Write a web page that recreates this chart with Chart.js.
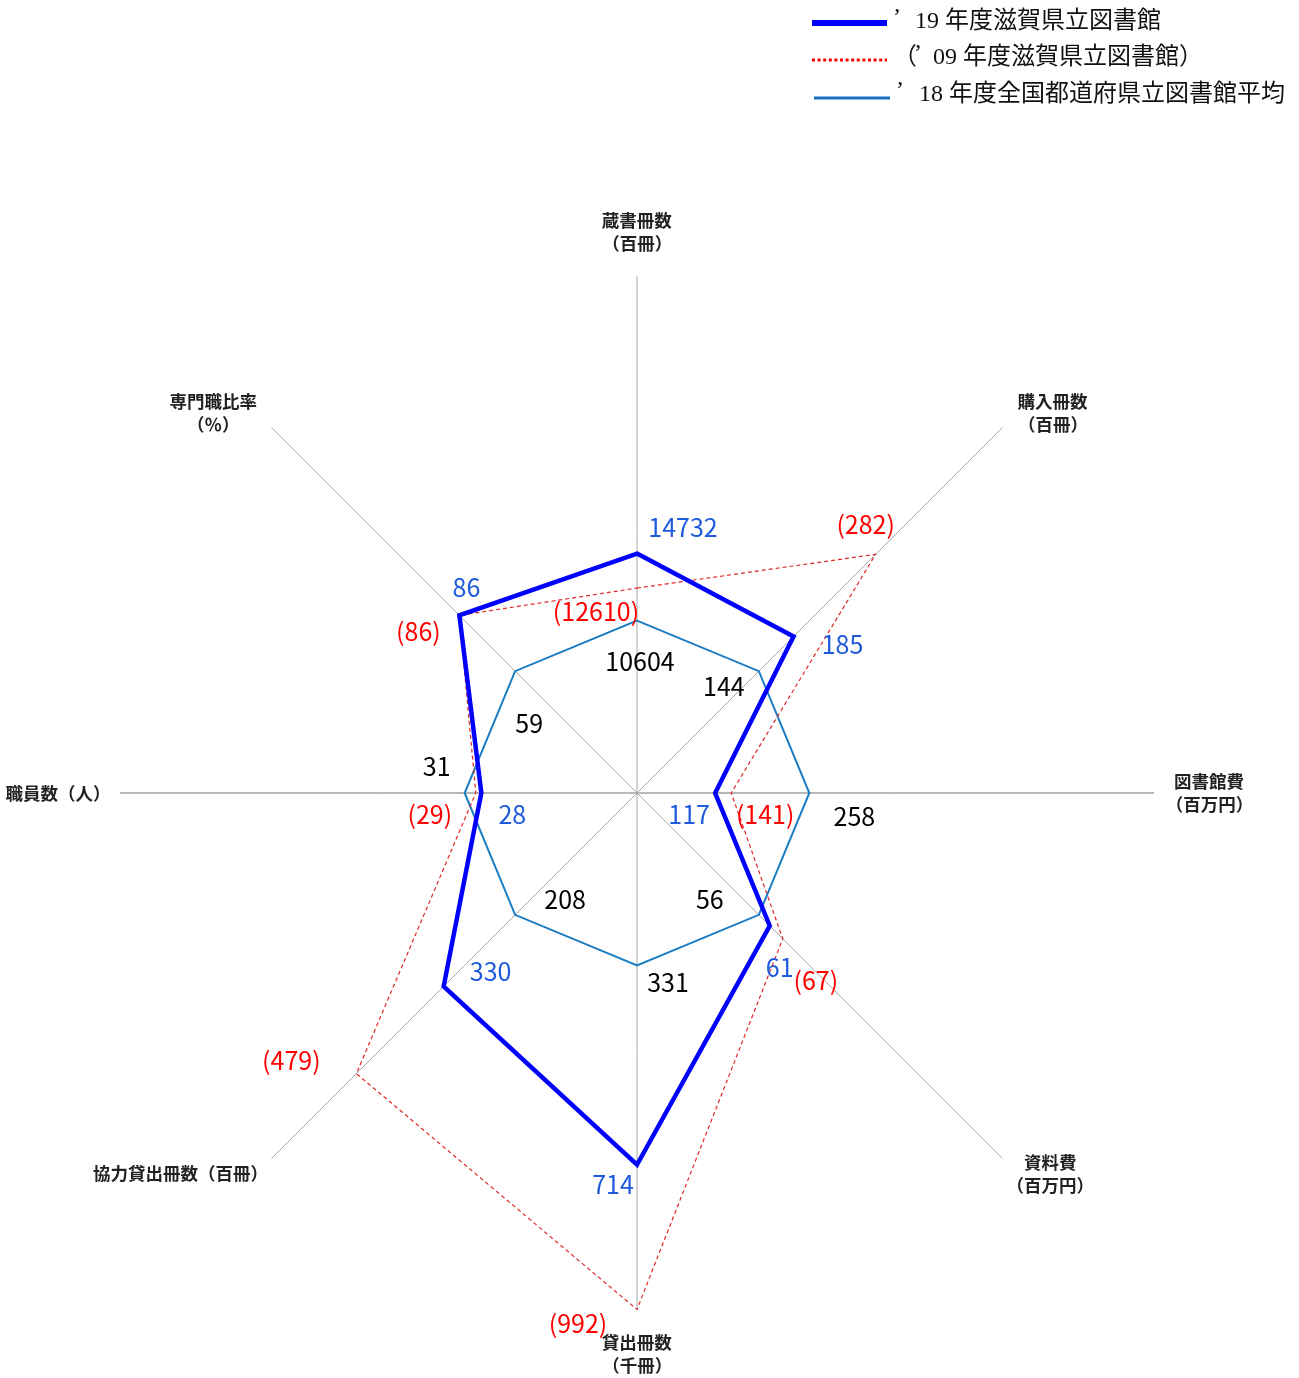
<!DOCTYPE html>
<html lang="ja">
<head>
    <meta charset="UTF-8">
    <title>滋賀県立図書館 レーダーチャート</title>
    <script src="https://cdn.jsdelivr.net/npm/chart.js"></script>
    <style>
        body { margin: 0; background: #fff; }
        canvas { display: block; }
    </style>
</head>
<body>
    <canvas id="chart" width="1299" height="1378"></canvas>

    <script>
        // 軸（上から時計回り）
        const categories = [
            ['蔵書冊数', '（百冊）'],
            ['購入冊数', '（百冊）'],
            ['図書館費', '（百万円）'],
            ['資料費', '（百万円）'],
            ['貸出冊数', '（千冊）'],
            ['協力貸出冊数（百冊）'],
            ['職員数（人）'],
            ['専門職比率', '（％）']
        ];
        const shiga2019 = [14732, 185, 117, 61, 714, 330, 28, 86];
        const shiga2009 = [12610, 282, 141, 67, 992, 479, 29, 86];
        const average2018 = [10604, 144, 258, 56, 331, 208, 31, 59];
        const seriesNames = ['19 年度滋賀県立図書館', '09 年度滋賀県立図書館', '18 年度全国都道府県立図書館平均'];
        const scaleMax = 3;  // 全国平均 = 1

        // each axis is shown relative to the national average
        const ratio = values => values.map((v, i) => v / average2018[i]);

        const BLUE = '#0000ff';
        const RED = '#e02828';
        const AVG = '#1a7cc4';
        const NUM_FONT = '25px "Noto Sans CJK JP", "Noto Sans", sans-serif';

        // label offsets from the plotted point (px)
        const blueOffsets = [[46, -26], [49, 8], [-26, 21], [10, 42], [-24, 20], [47, -15], [31, 21], [7, -28]];
        const redOffsets = [[-41, 23], [-10, -30], [34, 21], [33, 42], [-59, 14], [-65, -13], [-46, 21], [-41, 16]];
        const blackOffsets = [[3, 41], [-35, 15], [45, 23], [-49, -15], [31, 17], [50, -15], [-28, -27], [14, 52]];

        const overlay = {
            id: 'overlay',
            afterDraw(chart) {
                const ctx = chart.ctx;
                const scale = chart.scales.r;

                // axis titles, aligned on the visible ink (parens have blank sides)
                ctx.save();
                ctx.font = 'bold 17.5px "Noto Sans CJK JP", sans-serif';
                ctx.fillStyle = '#222';
                ctx.textBaseline = 'middle';
                ctx.textAlign = 'left';
                const lh = 23;
                categories.forEach((lines, i) => {
                    const p = scale.getPointPosition(i, scale.drawingArea + 21);
                    const ms = lines.map(l => ctx.measureText(l));
                    const vw = ms.map(m => m.actualBoundingBoxLeft + m.actualBoundingBoxRight);
                    const w = Math.max(...vw);
                    const h = lines.length * lh;
                    let cx = p.x, top = p.y - h / 2;
                    if (i === 0) top = p.y - h;
                    else if (i === 4) top = p.y;
                    else if (i < 4) cx = p.x + w / 2;
                    else cx = p.x - w / 2;
                    lines.forEach((l, k) => {
                        const x = cx - vw[k] / 2 + ms[k].actualBoundingBoxLeft;
                        ctx.fillText(l, x, top + lh / 2 + k * lh);
                    });
                });
                ctx.restore();

                // value labels
                ctx.save();
                ctx.font = NUM_FONT;
                ctx.textAlign = 'center';
                ctx.textBaseline = 'middle';
                const drawSet = (dsIndex, values, offsets, color, fmt) => {
                    const pts = chart.getDatasetMeta(dsIndex).data;
                    ctx.fillStyle = color;
                    values.forEach((v, i) => {
                        ctx.fillText(fmt(v), pts[i].x + offsets[i][0], pts[i].y + offsets[i][1]);
                    });
                };
                drawSet(2, average2018, blackOffsets, '#000', v => String(v));
                drawSet(1, shiga2009, redOffsets, '#ff0000', v => '(' + v + ')');
                drawSet(0, shiga2019, blueOffsets, '#1e5adc', v => String(v));
                ctx.restore();

                // legend
                ctx.save();
                ctx.lineCap = 'butt';
                ctx.strokeStyle = BLUE;
                ctx.lineWidth = 6;
                ctx.beginPath(); ctx.moveTo(812, 23); ctx.lineTo(887, 23); ctx.stroke();
                ctx.strokeStyle = '#ff0000';
                ctx.lineWidth = 3;
                ctx.setLineDash([3, 2.6]);
                ctx.beginPath(); ctx.moveTo(812, 60); ctx.lineTo(887, 60); ctx.stroke();
                ctx.setLineDash([]);
                ctx.strokeStyle = '#1770c4';
                ctx.beginPath(); ctx.moveTo(814, 98); ctx.lineTo(890, 98); ctx.stroke();

                ctx.font = '24px "Liberation Serif", "Noto Sans CJK JP", serif';
                ctx.fillStyle = '#111';
                ctx.textBaseline = 'middle';
                ctx.textAlign = 'left';
                ctx.fillText('’', 893, 18);
                ctx.fillText(seriesNames[0], 915, 22);
                ctx.fillText('（', 893, 58);
                ctx.fillText('’', 914, 54);
                ctx.fillText(seriesNames[1] + '）', 933, 58);
                ctx.fillText('’', 896, 91);
                ctx.fillText(seriesNames[2], 919, 95);
                ctx.restore();
            }
        };

        new Chart(document.getElementById('chart'), {
            type: 'radar',
            data: {
                labels: categories,
                datasets: [
                    {
                        label: seriesNames[0],
                        data: ratio(shiga2019),
                        borderColor: BLUE,
                        borderWidth: 4.5,
                        borderJoinStyle: 'miter',
                        fill: false,
                        pointRadius: 0
                    },
                    {
                        label: seriesNames[1],
                        data: ratio(shiga2009),
                        borderColor: RED,
                        borderWidth: 1.2,
                        borderDash: [4, 3],
                        fill: false,
                        pointRadius: 0
                    },
                    {
                        label: seriesNames[2],
                        data: ratio(average2018),
                        borderColor: AVG,
                        borderWidth: 2,
                        fill: false,
                        pointRadius: 0
                    }
                ]
            },
            options: {
                responsive: false,
                animation: false,
                layout: { padding: { left: 120, right: 145, top: 276, bottom: 68 } },
                elements: { line: { tension: 0 } },
                plugins: {
                    legend: { display: false },
                    tooltip: { enabled: false }
                },
                scales: {
                    r: {
                        min: 0,
                        max: scaleMax,
                        ticks: { display: false },
                        grid: { display: false },
                        pointLabels: { display: false },
                        angleLines: {
                            color: ctx => (ctx.index === 2 || ctx.index === 6) ? '#707070' : '#a8a8a8',
                            lineWidth: 1
                        }
                    }
                }
            },
            plugins: [overlay]
        });
    </script>
</body>
</html>
